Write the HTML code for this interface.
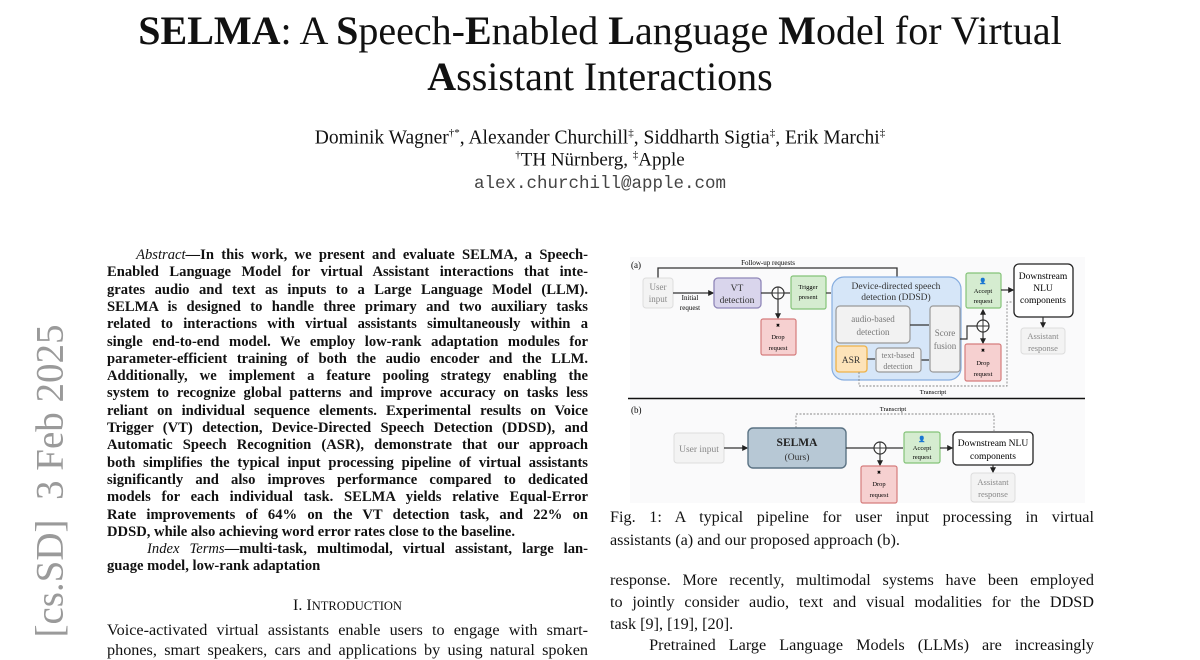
<!DOCTYPE html>
<html><head><meta charset="utf-8">
<style>
body{margin:0;width:1200px;height:648px;overflow:hidden;background:#fff;position:relative;font-family:"Liberation Serif",serif;color:#111}
.a{position:absolute;white-space:nowrap}
.t{position:absolute;left:0;width:1200px;text-align:center;font-size:40px;line-height:42px}
.ab{position:absolute;left:107px;width:481px;font-weight:bold;font-size:14.6px;line-height:17.3px;text-align:justify;text-align-last:justify;white-space:nowrap}
.ab.l{text-align-last:left}
.r{position:absolute;left:610px;width:484px;font-size:16.2px;line-height:20px;text-align:justify;text-align-last:justify;white-space:nowrap}
.r.l{text-align-last:left}
.side{position:absolute;left:50px;top:481px;transform:translate(-50%,-50%) rotate(-90deg);font-size:39px;color:#9a9a9a;white-space:nowrap}
</style></head><body>
<div class="t" style="top:10px"><b>SELMA</b>: A <b>S</b>peech-<b>E</b>nabled <b>L</b>anguage <b>M</b>odel for Virtual</div>
<div class="t" style="top:56px"><b>A</b>ssistant Interactions</div>
<div class="a" style="left:0;width:1200px;text-align:center;top:127px;font-size:19.5px">Dominik Wagner<sup style="font-size:11px">†*</sup>, Alexander Churchill<sup style="font-size:11px">‡</sup>, Siddharth Sigtia<sup style="font-size:11px">‡</sup>, Erik Marchi<sup style="font-size:11px">‡</sup></div>
<div class="a" style="left:0;width:1200px;text-align:center;top:149px;font-size:19px"><sup style="font-size:11px">†</sup>TH Nürnberg, <sup style="font-size:11px">‡</sup>Apple</div>
<div class="a" style="left:0;width:1200px;text-align:center;top:174px;font-size:17.5px;font-family:'Liberation Mono',monospace;color:#444">alex.churchill@apple.com</div>

<div class="side">[cs.SD]&nbsp; 3 Feb 2025</div>

<div class="ab" style="top:247px">&nbsp;&nbsp;&nbsp;&nbsp;<i style="font-weight:normal">Abstract</i>—In this work, we present and evaluate SELMA, a Speech-</div>
<div class="ab" style="top:264.3px">Enabled Language Model for virtual Assistant interactions that inte-</div>
<div class="ab" style="top:281.6px">grates audio and text as inputs to a Large Language Model (LLM).</div>
<div class="ab" style="top:298.9px">SELMA is designed to handle three primary and two auxiliary tasks</div>
<div class="ab" style="top:316.2px">related to interactions with virtual assistants simultaneously within a</div>
<div class="ab" style="top:333.5px">single end-to-end model. We employ low-rank adaptation modules for</div>
<div class="ab" style="top:350.8px">parameter-efficient training of both the audio encoder and the LLM.</div>
<div class="ab" style="top:368.1px">Additionally, we implement a feature pooling strategy enabling the</div>
<div class="ab" style="top:385.4px">system to recognize global patterns and improve accuracy on tasks less</div>
<div class="ab" style="top:402.7px">reliant on individual sequence elements. Experimental results on Voice</div>
<div class="ab" style="top:420px">Trigger (VT) detection, Device-Directed Speech Detection (DDSD), and</div>
<div class="ab" style="top:437.3px">Automatic Speech Recognition (ASR), demonstrate that our approach</div>
<div class="ab" style="top:454.6px">both simplifies the typical input processing pipeline of virtual assistants</div>
<div class="ab" style="top:471.9px">significantly and also improves performance compared to dedicated</div>
<div class="ab" style="top:489.2px">models for each individual task. SELMA yields relative Equal-Error</div>
<div class="ab" style="top:506.5px">Rate improvements of 64% on the VT detection task, and 22% on</div>
<div class="ab l" style="top:523.8px">DDSD, while also achieving word error rates close to the baseline.</div>
<div class="ab" style="top:541.1px">&nbsp;&nbsp;&nbsp;&nbsp;<i style="font-weight:normal">Index Terms</i>—multi-task, multimodal, virtual assistant, large lan-</div>
<div class="ab l" style="top:558.4px">guage model, low-rank adaptation</div>
<div class="a" style="left:107px;width:481px;text-align:center;top:597px;font-size:16px">I. I<span style="font-size:12.5px">NTRODUCTION</span></div>
<div class="a" style="left:107px;width:481px;top:621px;font-size:16.2px;text-align:justify;text-align-last:justify">Voice-activated virtual assistants enable users to engage with smart-</div>
<div class="a" style="left:107px;width:481px;top:641px;font-size:16.2px;text-align:justify;text-align-last:justify">phones, smart speakers, cars and applications by using natural spoken</div>

<div class="r" style="top:507px">Fig. 1: A typical pipeline for user input processing in virtual</div>
<div class="r l" style="top:530px">assistants (a) and our proposed approach (b).</div>
<div class="r" style="top:570px">response. More recently, multimodal systems have been employed</div>
<div class="r" style="top:592px">to jointly consider audio, text and visual modalities for the DDSD</div>
<div class="r l" style="top:614px">task [9], [19], [20].</div>
<div class="r" style="top:635px">&nbsp;&nbsp;&nbsp;Pretrained Large Language Models (LLMs) are increasingly</div>

<svg class="a" style="left:0;top:0" width="1200" height="648" viewBox="0 0 1200 648" font-family="Liberation Serif, serif">
<defs><marker id="ar" markerWidth="5" markerHeight="5" refX="4" refY="2.5" orient="auto"><path d="M0,0L5,2.5L0,5z" fill="#222"/></marker></defs>
<rect x="630" y="257" width="455" height="246" fill="#fafafb"/>
<text x="631" y="268" font-size="9">(a)</text>
<path d="M658,278V268H897V277" fill="none" stroke="#333" stroke-width="1.3"/>
<text x="768" y="265" font-size="7" text-anchor="middle">Follow-up requests</text>
<rect x="643" y="278" width="30" height="30" rx="3" fill="#f3f3f3" stroke="#ddd"/>
<text x="658" y="290" font-size="9" fill="#888" text-anchor="middle">User</text><text x="658" y="302" font-size="9" fill="#888" text-anchor="middle">input</text>
<path d="M673,293H713" stroke="#333" stroke-width="1.2" marker-end="url(#ar)"/>
<text x="690" y="300" font-size="7" text-anchor="middle">Initial</text><text x="690" y="310" font-size="7" text-anchor="middle">request</text>
<rect x="714" y="278" width="47" height="30" rx="4" fill="#d9d5ec" stroke="#8f86b8" stroke-width="1.3"/>
<text x="737" y="291" font-size="9.5" fill="#333" text-anchor="middle">VT</text><text x="737" y="303" font-size="9.5" fill="#333" text-anchor="middle">detection</text>
<path d="M761,293H772M784,293H790" stroke="#333" stroke-width="1.2"/>
<circle cx="778" cy="293" r="6" fill="#fff" stroke="#333" stroke-width="1.2"/><path d="M772,293H784M778,287V299" stroke="#333"/>
<path d="M778,299V318" stroke="#333" stroke-width="1.2" marker-end="url(#ar)"/>
<rect x="791" y="276" width="35" height="33" rx="2" fill="#d5ecd0" stroke="#84c378" stroke-width="1.2"/>
<text x="808" y="289" font-size="6.5" text-anchor="middle">Trigger</text><text x="808" y="299" font-size="6.5" text-anchor="middle">present</text>
<rect x="761" y="319" width="35" height="36" rx="2" fill="#f6d0d0" stroke="#d57c7c" stroke-width="1.2"/>
<text x="778" y="327" font-size="5" text-anchor="middle">✖</text>
<text x="778" y="339" font-size="6.5" text-anchor="middle">Drop</text><text x="778" y="350" font-size="6.5" text-anchor="middle">request</text>
<path d="M826,293H831" stroke="#333" stroke-width="1.2"/>
<rect x="832" y="277" width="129" height="103" rx="12" fill="#d6e6f8" stroke="#86addf" stroke-width="1.2"/>
<text x="896" y="289" font-size="9.5" fill="#333" text-anchor="middle">Device-directed speech</text>
<text x="896" y="300" font-size="9.5" fill="#333" text-anchor="middle">detection (DDSD)</text>
<rect x="836" y="306" width="74" height="37" rx="4" fill="#f2f2f2" stroke="#999" stroke-width="1.2"/>
<text x="873" y="322" font-size="9" fill="#777" text-anchor="middle">audio-based</text><text x="873" y="335" font-size="9" fill="#777" text-anchor="middle">detection</text>
<rect x="930" y="306" width="30" height="66" rx="3" fill="#f2f2f2" stroke="#999" stroke-width="1.2"/>
<text x="945" y="336" font-size="9" fill="#777" text-anchor="middle">Score</text><text x="945" y="349" font-size="9" fill="#777" text-anchor="middle">fusion</text>
<path d="M910,325H929M921,360H929" stroke="#333" stroke-width="1.2"/>
<rect x="836" y="346" width="31" height="26" rx="3" fill="#fde3b9" stroke="#eeb24a" stroke-width="1.3"/>
<text x="851" y="363" font-size="9.5" fill="#333" text-anchor="middle">ASR</text>
<path d="M867,359H875" stroke="#333" stroke-width="1.2"/>
<rect x="876" y="348" width="45" height="24" rx="3" fill="#f2f2f2" stroke="#999" stroke-width="1.2"/>
<text x="898" y="358" font-size="8" fill="#777" text-anchor="middle">text-based</text><text x="898" y="369" font-size="8" fill="#777" text-anchor="middle">detection</text>
<path d="M960,339H967V326H977" fill="none" stroke="#333" stroke-width="1.2"/>
<circle cx="983" cy="326" r="6" fill="#fff" stroke="#333" stroke-width="1.2"/><path d="M977,326H989M983,320V332" stroke="#333"/>
<path d="M983,320V310" stroke="#333" stroke-width="1.2" marker-end="url(#ar)"/>
<path d="M983,332V343" stroke="#333" stroke-width="1.2" marker-end="url(#ar)"/>
<rect x="966" y="273" width="35" height="35" rx="2" fill="#d5ecd0" stroke="#84c378" stroke-width="1.2"/>
<text x="983" y="283" font-size="6" text-anchor="middle">👤</text>
<text x="983" y="293" font-size="6.5" text-anchor="middle">Accept</text><text x="983" y="303" font-size="6.5" text-anchor="middle">request</text>
<rect x="965" y="344" width="36" height="37" rx="2" fill="#f6d0d0" stroke="#d57c7c" stroke-width="1.2"/>
<text x="983" y="352" font-size="5" text-anchor="middle">✖</text>
<text x="983" y="365" font-size="6.5" text-anchor="middle">Drop</text><text x="983" y="376" font-size="6.5" text-anchor="middle">request</text>
<path d="M1001,290H1013" stroke="#333" stroke-width="1.2" marker-end="url(#ar)"/>
<rect x="1014" y="264" width="59" height="53" rx="5" fill="#fff" stroke="#222" stroke-width="1.3"/>
<text x="1043" y="279" font-size="9.5" text-anchor="middle">Downstream</text><text x="1043" y="291" font-size="9.5" text-anchor="middle">NLU</text><text x="1043" y="303" font-size="9.5" text-anchor="middle">components</text>
<path d="M1043,317V327" stroke="#333" stroke-width="1.2" marker-end="url(#ar)"/>
<rect x="1021" y="328" width="44" height="26" rx="3" fill="#f3f3f3" stroke="#ddd"/>
<text x="1043" y="339" font-size="8.5" fill="#888" text-anchor="middle">Assistant</text><text x="1043" y="351" font-size="8.5" fill="#888" text-anchor="middle">response</text>
<path d="M859,372V386H1007V302H1013" fill="none" stroke="#888" stroke-width="0.9" stroke-dasharray="2,1.5"/>
<text x="933" y="394" font-size="6.5" text-anchor="middle">Transcript</text>
<path d="M628,398.5H1085" stroke="#111" stroke-width="1.5"/>
<text x="631" y="413" font-size="9">(b)</text>
<path d="M796,428V414H994V431" fill="none" stroke="#888" stroke-width="0.9" stroke-dasharray="2,1.5"/>
<text x="893" y="411" font-size="6.5" text-anchor="middle">Transcript</text>
<rect x="674" y="433" width="50" height="30" rx="3" fill="#f3f3f3" stroke="#ddd"/>
<text x="699" y="452" font-size="9.5" fill="#888" text-anchor="middle">User input</text>
<path d="M724,448H747" stroke="#333" stroke-width="1.2" marker-end="url(#ar)"/>
<rect x="748" y="428" width="98" height="40" rx="5" fill="#b7c8d5" stroke="#5b7384" stroke-width="1.4"/>
<text x="797" y="446" font-size="11.5" font-weight="bold" fill="#222" text-anchor="middle">SELMA</text>
<text x="797" y="460" font-size="9.5" fill="#333" text-anchor="middle">(Ours)</text>
<path d="M846,448H874M886,448H903" stroke="#333" stroke-width="1.2"/>
<circle cx="880" cy="448" r="6" fill="#fff" stroke="#333" stroke-width="1.2"/><path d="M874,448H886M880,442V454" stroke="#333"/>
<path d="M880,454V465" stroke="#333" stroke-width="1.2" marker-end="url(#ar)"/>
<rect x="904" y="432" width="36" height="31" rx="2" fill="#d5ecd0" stroke="#84c378" stroke-width="1.2"/>
<text x="922" y="441" font-size="6" text-anchor="middle">👤</text>
<text x="922" y="450" font-size="6.5" text-anchor="middle">Accept</text><text x="922" y="459" font-size="6.5" text-anchor="middle">request</text>
<path d="M940,448H952" stroke="#333" stroke-width="1.2" marker-end="url(#ar)"/>
<rect x="953" y="432" width="80" height="33" rx="4" fill="#fff" stroke="#222" stroke-width="1.3"/>
<text x="993" y="446" font-size="9.5" text-anchor="middle">Downstream NLU</text><text x="993" y="459" font-size="9.5" text-anchor="middle">components</text>
<path d="M993,465V472" stroke="#333" stroke-width="1.2" marker-end="url(#ar)"/>
<rect x="971" y="473" width="44" height="29" rx="3" fill="#f3f3f3" stroke="#ddd"/>
<text x="993" y="485" font-size="8.5" fill="#888" text-anchor="middle">Assistant</text><text x="993" y="497" font-size="8.5" fill="#888" text-anchor="middle">response</text>
<rect x="861" y="466" width="36" height="37" rx="2" fill="#f6d0d0" stroke="#d57c7c" stroke-width="1.2"/>
<text x="879" y="474" font-size="5" text-anchor="middle">✖</text>
<text x="879" y="486" font-size="6.5" text-anchor="middle">Drop</text><text x="879" y="497" font-size="6.5" text-anchor="middle">request</text>
</svg>
</body></html>
